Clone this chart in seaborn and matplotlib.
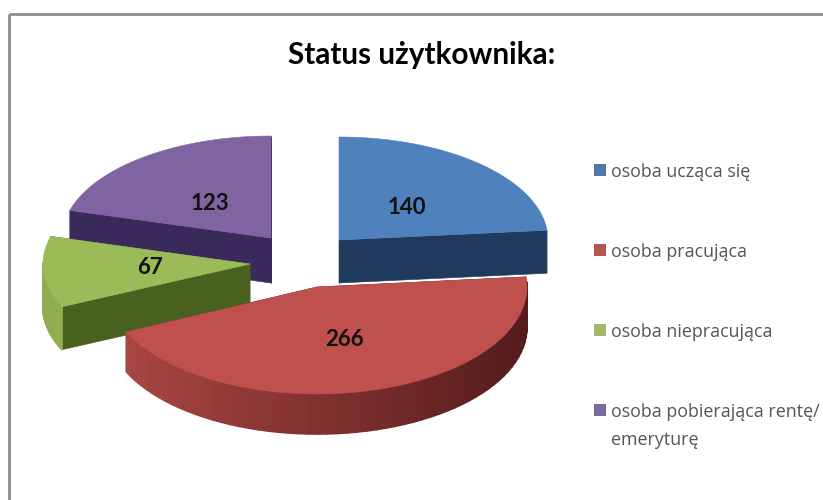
import numpy as np
import matplotlib
matplotlib.use("Agg")
import matplotlib.pyplot as plt
from matplotlib.patches import Polygon, Rectangle
from matplotlib.colors import to_rgb
import seaborn as sns

# data
categories = ["osoba ucząca się", "osoba pracująca", "osoba niepracująca",
              "osoba pobierająca rentę/\nemeryturę"]
values = [140, 266, 67, 123]
title = "Status użytkownika:"

# style
top_colors = ["#4f81bd", "#c0504d", "#9bbb59", "#8064a2"]
cut_colors = ["#1f3a5c", "#5c1f1f", "#49611f", "#3a2a5c"]
rim_near = ["#2a4a70", "#ad4844", "#8fae4f", "#6f5690"]
rim_far = ["#2a4a70", "#551c1c", "#94b455", "#6f5690"]
legend_colors = ["#4f78a8", "#b85450", "#a0b868", "#7d6a9c"]

centers = [(339, 240), (317, 287), (250, 264), (271, 238)]
radii = [(209, 103), (210, 107), (207, 102), (209, 102)]
depths = [43, 40, 43, 45]
label_pos = [(407, 207), (344, 340), (150, 267), (210, 203)]
legend_y = [170, 250, 330, 410]

sns.set_theme(style="white")
plt.rcParams["font.family"] = ["Lato", "DejaVu Sans"]

fig = plt.figure(figsize=(8.23, 5.0), dpi=100)
ax = fig.add_axes([0, 0, 1, 1])
ax.set_xlim(0, 823)
ax.set_ylim(500, 0)
ax.axis("off")

# chart frame: only the top and left sides fall inside the crop
ax.add_patch(Rectangle((9, 14), 900, 600, fill=False, ec="#8c8c8c", lw=2, zorder=1))

fractions = np.array(values) / sum(values)
edges = np.concatenate([[0], np.cumsum(fractions)]) * 2 * np.pi


def rim_point(c, r, a):
    return np.array([c[0] + r[0] * np.sin(a), c[1] - r[1] * np.cos(a)])


def draw_slice(i, z):
    c, r, d = centers[i], radii[i], depths[i]
    a0, a1 = edges[i], edges[i + 1]
    angles = np.linspace(a0, a1, 60)
    arc = np.array([rim_point(c, r, a) for a in angles])
    apex = np.array(c, float)
    shift = np.array([0, d])
    # flat cut faces
    for end in (arc[0], arc[-1]):
        ax.add_patch(Polygon([apex, end, end + shift, apex + shift], closed=True,
                             fc=cut_colors[i], ec=cut_colors[i], lw=0.4, zorder=z))
    # outer rim, shaded along its length; only the front half faces the viewer
    near, far = np.array(to_rgb(rim_near[i])), np.array(to_rgb(rim_far[i]))
    for k in range(len(arc) - 1):
        if np.cos(angles[k]) >= 0 and np.cos(angles[k + 1]) >= 0:
            continue
        t = (np.sin(angles[k]) + 1) / 2
        col = near * (1 - t) + far * t
        quad = [arc[k], arc[k + 1], arc[k + 1] + shift, arc[k] + shift]
        ax.add_patch(Polygon(quad, closed=True, fc=col, ec=col, lw=1.2,
                             joinstyle="round", zorder=z + 0.1))
    # top surface
    ax.add_patch(Polygon(np.vstack([apex, arc]), closed=True, fc=top_colors[i],
                         ec=top_colors[i], lw=0.4, zorder=z + 0.2))


for z, i in enumerate([3, 2, 1, 0]):
    draw_slice(i, 2 + z)

for v, (x, y) in zip(values, label_pos):
    ax.text(x, y, str(v), ha="center", va="center", fontsize=16, fontweight="bold",
            color="#111111", zorder=10)

ax.text(422, 55, title, ha="center", va="center", fontsize=21.4, fontweight="bold",
        color="black", zorder=10)

for name, col, y in zip(categories, legend_colors, legend_y):
    ax.add_patch(Rectangle((594, y - 6), 12, 12, fc=col, ec="none", zorder=10))
    ax.text(611, y - 7, name, ha="left", va="top", fontsize=12.9, color="#555555",
            family=["Open Sans", "DejaVu Sans"], linespacing=1.7, zorder=10)

fig.savefig("out.png", dpi=100)
